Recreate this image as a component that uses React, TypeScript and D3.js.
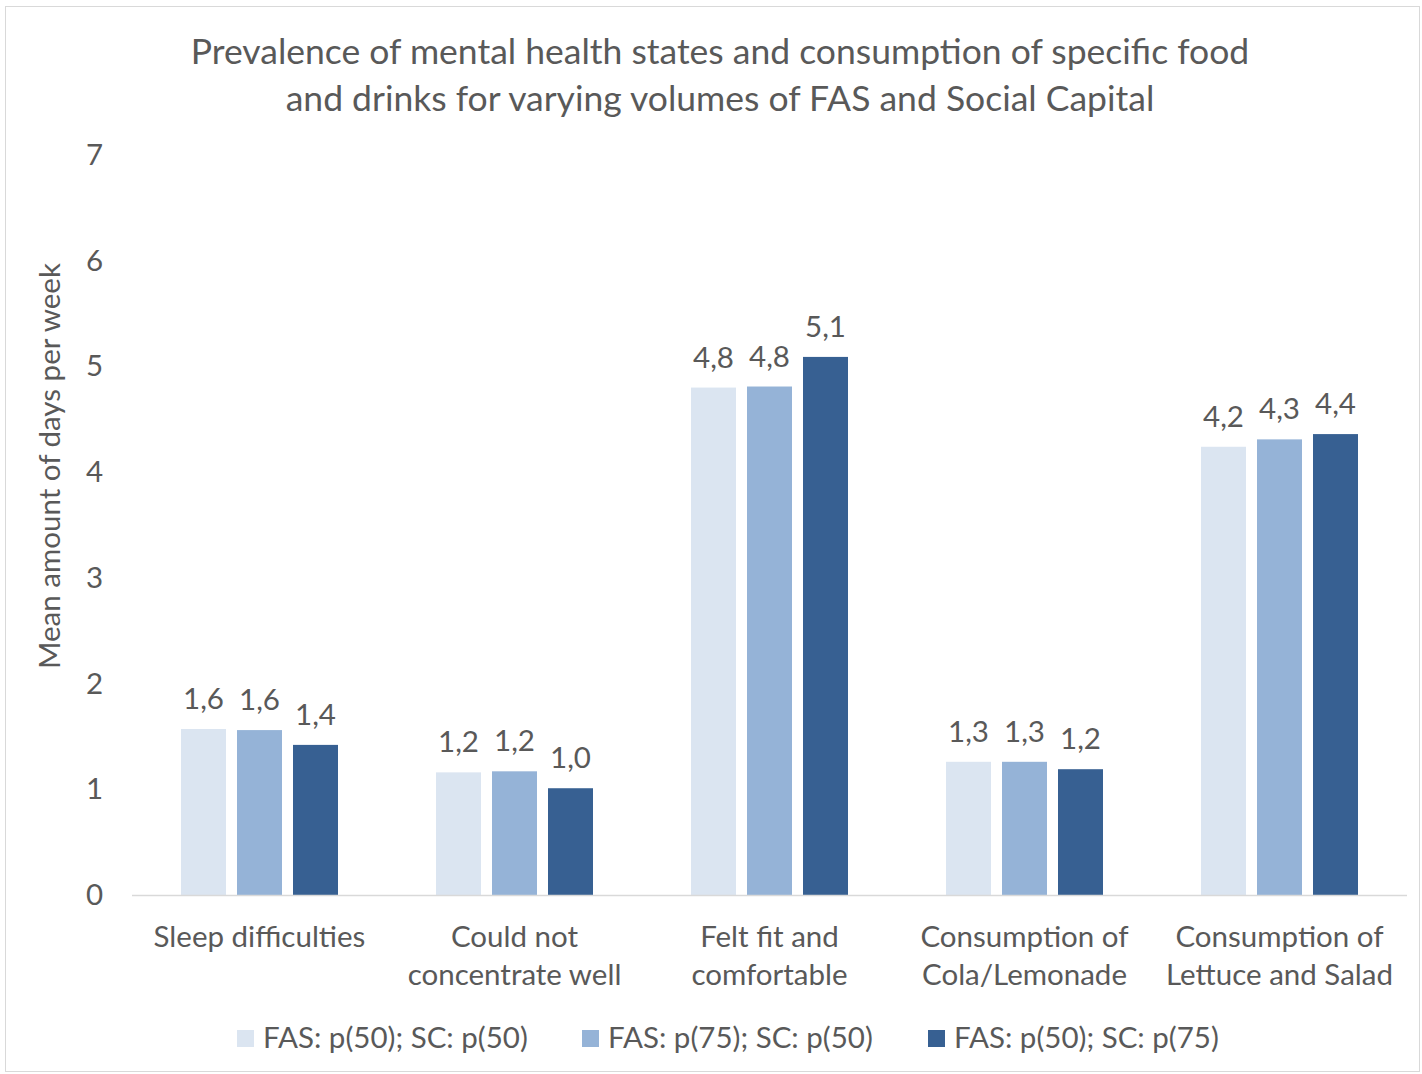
import React from "react";
import * as d3 from "d3";

const categories: string[][] = [
  ["Sleep difficulties"],
  ["Could not", "concentrate well"],
  ["Felt fit and", "comfortable"],
  ["Consumption of", "Cola/Lemonade"],
  ["Consumption of", "Lettuce and Salad"],
];
const seriesNames = ["FAS: p(50); SC: p(50)", "FAS: p(75); SC: p(50)", "FAS: p(50); SC: p(75)"];
const seriesA = [1.57, 1.16, 4.8, 1.26, 4.24];
const seriesB = [1.56, 1.17, 4.81, 1.26, 4.31];
const seriesC = [1.42, 1.01, 5.09, 1.19, 4.36];
const seriesValues = [seriesA, seriesB, seriesC];
const colors = ["#dbe5f1", "#95b3d7", "#376092"];
const yTicks = [0, 1, 2, 3, 4, 5, 6, 7];
const titleLines = [
  "Prevalence of mental health states and consumption of specific food",
  "and drinks for varying volumes of FAS and Social Capital",
];
const yLabel = "Mean amount of days per week";

const W = 1422;
const H = 1074;
const FONT = "Lato, 'Open Sans', sans-serif";
const TXT = "#595959";
const FS = 29.5;

export default function App() {
  const plotL = 132, plotR = 1407, plotT = 155, plotB = 895;
  const x0 = d3.scaleBand<number>().domain(d3.range(categories.length)).range([plotL, plotR]).padding(0);
  const x1 = d3.scaleBand<number>().domain(d3.range(3)).range([0, 157]).paddingInner(11 / 56).paddingOuter(0);
  const y = d3.scaleLinear().domain([0, 7]).range([plotB, plotT]);
  const fmt = (v: number) => d3.format(".1f")(v).replace(".", ",");
  return (
    <svg width={W} height={H} style={{ position: "absolute", left: 0, top: 0, background: "#fff" }} fontFamily={FONT}>
      <rect x={0} y={0} width={W} height={H} fill="#fff" />
      <rect x={5.5} y={6.5} width={W - 8} height={H - 9} fill="none" stroke="#d9d9d9" strokeWidth={1} />
      {titleLines.map((t, i) => (
        <text key={i} x={720} y={64 + i * 47} textAnchor="middle" fontSize={35.5} fill={TXT}>{t}</text>
      ))}
      <text transform={`translate(60,${466}) rotate(-90)`} textAnchor="middle" fontSize={FS} fill={TXT}>{yLabel}</text>
      {yTicks.map((t) => (
        <text key={t} x={103} y={y(t) + 10} textAnchor="end" fontSize={FS} fill={TXT}>{t}</text>
      ))}
      {categories.map((c, ci) => {
        const cx = (x0(ci) as number) + x0.bandwidth() / 2;
        const gx = cx - 78.5;
        return (
          <g key={ci}>
            {seriesValues.map((vals, si) => {
              const bx = gx + (x1(si) as number);
              const v = vals[ci];
              return (
                <g key={si}>
                  <rect x={bx} y={y(v)} width={x1.bandwidth()} height={plotB - y(v)} fill={colors[si]} />
                  <text x={bx + x1.bandwidth() / 2} y={y(v) - 20} textAnchor="middle" fontSize={FS} fill={TXT}>{fmt(v)}</text>
                </g>
              );
            })}
            {c.map((line, li) => (
              <text key={li} x={cx} y={947 + li * 38} textAnchor="middle" fontSize={FS} fill={TXT}>{line}</text>
            ))}
          </g>
        );
      })}
      <line x1={plotL} x2={plotR} y1={plotB + 0.5} y2={plotB + 0.5} stroke="#d9d9d9" strokeWidth={1.5} />
      {seriesNames.map((s, i) => {
        const lx = [237, 582, 928][i];
        return (
          <g key={i}>
            <rect x={lx} y={1030} width={17} height={17} fill={colors[i]} />
            <text x={lx + 26} y={1048} fontSize={FS} fill={TXT}>{s}</text>
          </g>
        );
      })}
    </svg>
  );
}
